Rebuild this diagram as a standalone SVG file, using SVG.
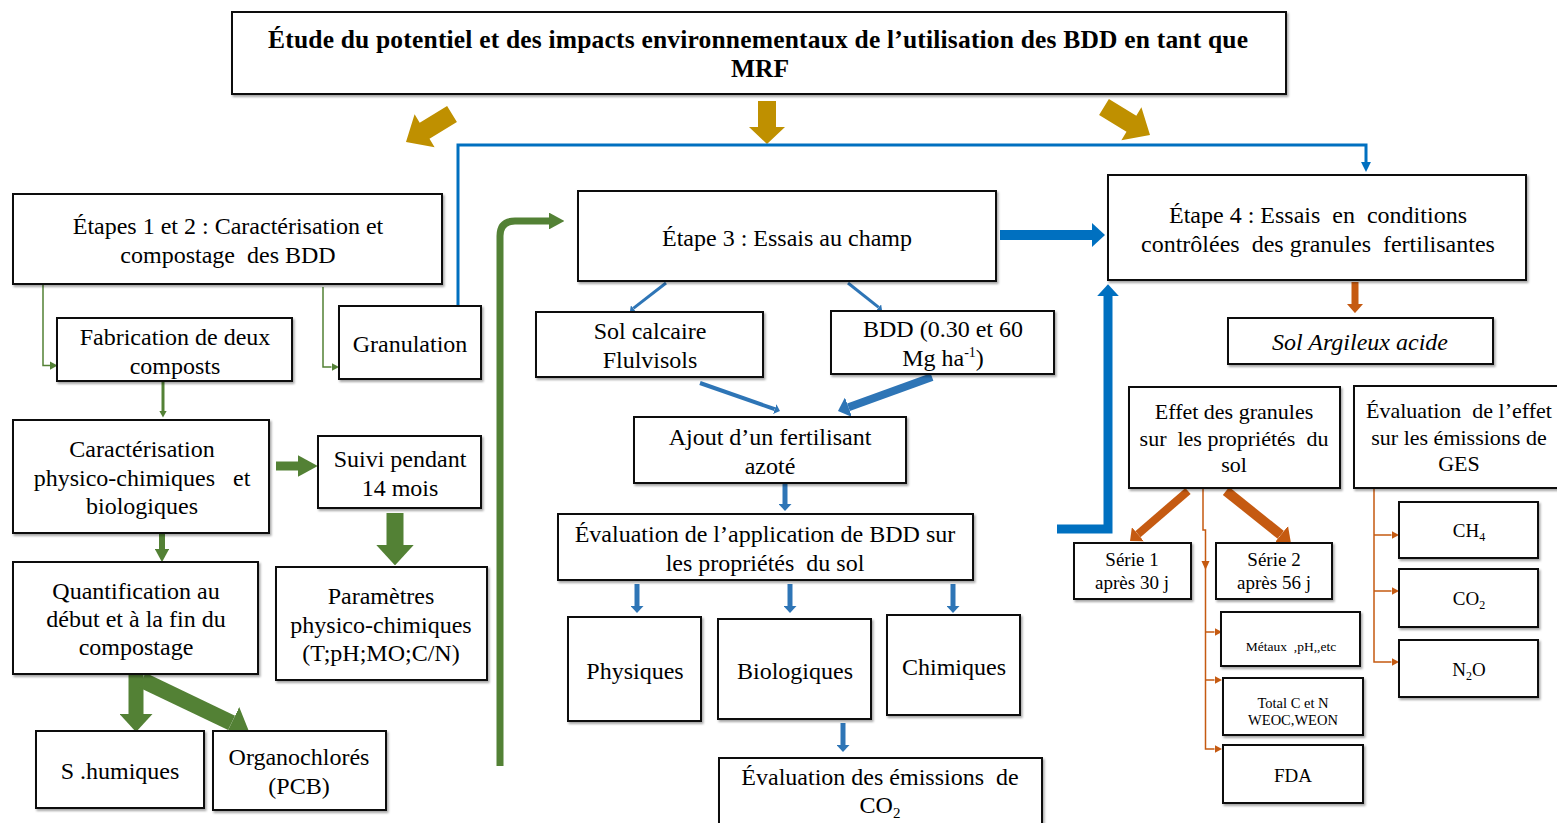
<svg xmlns="http://www.w3.org/2000/svg" width="1557" height="823" viewBox="0 0 1557 823" xml:space="preserve">
<style>
text{font-family:"Liberation Serif","Times New Roman",serif;fill:#000;text-anchor:middle;white-space:pre}
.t{font-size:24px}
.m{font-size:22px}
.s{font-size:19px}
.xs{font-size:14.5px}
.ttl{font-size:25.5px;font-weight:bold}
.box{fill:#fff;stroke:#111;stroke-width:2;filter:url(#sh)}
.g{fill:none;stroke:#538135}
.b{fill:none;stroke:#0070C0}
.sb{fill:none;stroke:#2E75B6}
.o{fill:none;stroke:#C55A11}
</style>
<defs>
<filter id="sh" x="-5%" y="-5%" width="115%" height="125%">
<feDropShadow dx="1.5" dy="2" stdDeviation="1.2" flood-color="#000" flood-opacity="0.35"/>
</filter>
<marker id="gThin" viewBox="0 0 10 10" refX="0" refY="5" markerUnits="strokeWidth" markerWidth="5" markerHeight="5.5" preserveAspectRatio="none" orient="auto"><path d="M0,0L10,5L0,10z" fill="#538135"/></marker>
<marker id="gHead" viewBox="0 0 10 10" refX="0" refY="5" markerUnits="strokeWidth" markerWidth="2.2" markerHeight="2.4" preserveAspectRatio="none" orient="auto"><path d="M0,0L10,5L0,10z" fill="#538135"/></marker>
<marker id="gWide" viewBox="0 0 10 10" refX="0" refY="5" markerUnits="strokeWidth" markerWidth="1.2" markerHeight="2.2" preserveAspectRatio="none" orient="auto"><path d="M0,0L10,5L0,10z" fill="#538135"/></marker>
<marker id="bThin" viewBox="0 0 10 10" refX="0" refY="5" markerUnits="strokeWidth" markerWidth="3.3" markerHeight="3.3" preserveAspectRatio="none" orient="auto"><path d="M0,0L10,5L0,10z" fill="#0070C0"/></marker>
<marker id="bHead" viewBox="0 0 10 10" refX="0" refY="5" markerUnits="strokeWidth" markerWidth="1.3" markerHeight="2.4" preserveAspectRatio="none" orient="auto"><path d="M0,0L10,5L0,10z" fill="#0070C0"/></marker>
<marker id="sHead" viewBox="0 0 10 10" refX="0" refY="5" markerUnits="strokeWidth" markerWidth="1.4" markerHeight="2.6" preserveAspectRatio="none" orient="auto"><path d="M0,0L10,5L0,10z" fill="#2E75B6"/></marker>
<marker id="oHead" viewBox="0 0 10 10" refX="0" refY="5" markerUnits="strokeWidth" markerWidth="1.3" markerHeight="2.3" preserveAspectRatio="none" orient="auto"><path d="M0,0L10,5L0,10z" fill="#C55A11"/></marker>
<marker id="oThin" viewBox="0 0 10 10" refX="0" refY="5" markerUnits="strokeWidth" markerWidth="5" markerHeight="5.5" preserveAspectRatio="none" orient="auto"><path d="M0,0L10,5L0,10z" fill="#C55A11"/></marker>
</defs>
<rect width="1557" height="823" fill="#fff"/>

<g id="connectors">
<polygon fill="#BF9000" points="447.1,106 419.7,122.7 414.6,114.2 406,142 434.6,147.2 429.5,138.7 456.9,122"/>
<polygon fill="#BF9000" points="758,101 776,101 776,127 785,127 767,144 749,127 758,127"/>
<polygon fill="#BF9000" points="1108.9,99 1136.3,115.7 1141.4,107.2 1150,135 1121.4,140.2 1126.5,131.7 1099.1,115"/>
<path class="g" stroke-width="1.5" d="M43,285V365.5H50" marker-end="url(#gThin)"/>
<path class="g" stroke-width="1.5" d="M323,287V367H331.5" marker-end="url(#gThin)"/>
<path class="g" stroke-width="3" d="M163,382V411" marker-end="url(#gHead)"/>
<path class="g" stroke-width="9" d="M276,466H298" marker-end="url(#gHead)"/>
<path class="g" stroke-width="17" d="M395,513V545" marker-end="url(#gWide)"/>
<path class="g" stroke-width="6" d="M162,533V549" marker-end="url(#gHead)"/>
<path class="g" stroke-width="15" d="M136,674V714" marker-end="url(#gWide)"/>
<path class="g" stroke-width="16" d="M142,680L231.6,722.9" marker-end="url(#gWide)"/>
<path class="g" stroke-width="7" d="M500,766V236Q500,221 515,221H549" marker-end="url(#gHead)"/>
<path class="b" stroke-width="3" d="M458,306V145H1366V162" marker-end="url(#bThin)"/>
<path class="b" stroke-width="10" d="M1000,235H1092" marker-end="url(#bHead)"/>
<path class="b" stroke-width="9" d="M1057,529H1108V296" marker-end="url(#bHead)"/>
<path class="sb" stroke-width="3" d="M666,283L633.3,308.4" marker-end="url(#sHead)"/>
<path class="sb" stroke-width="3" d="M848,283L878.7,307.4" marker-end="url(#sHead)"/>
<path class="sb" stroke-width="4" d="M700,383L774.7,409.2" marker-end="url(#sHead)"/>
<path class="sb" stroke-width="8" d="M932,377L848.5,407.2" marker-end="url(#sHead)"/>
<path class="sb" stroke-width="5" d="M785,484V504" marker-end="url(#sHead)"/>
<path class="sb" stroke-width="5" d="M637,584V606" marker-end="url(#sHead)"/>
<path class="sb" stroke-width="5" d="M790,584V606" marker-end="url(#sHead)"/>
<path class="sb" stroke-width="5" d="M953,584V606" marker-end="url(#sHead)"/>
<path class="sb" stroke-width="5" d="M843,723V745" marker-end="url(#sHead)"/>
<path class="o" stroke-width="7" d="M1355,282V304" marker-end="url(#oHead)"/>
<path class="o" stroke-width="8" d="M1188,491L1137.9,534.2" marker-end="url(#oHead)"/>
<path class="o" stroke-width="10" d="M1226,491L1280.8,534.9" marker-end="url(#oHead)"/>
<path class="o" stroke-width="1.5" d="M1203,489V530H1205.5V749H1214.5" marker-end="url(#oThin)"/>
<path class="o" stroke-width="1.5" d="M1205.5,632H1214.5" marker-end="url(#oThin)"/>
<path class="o" stroke-width="1.5" d="M1205.5,680H1214.5" marker-end="url(#oThin)"/>
<polygon fill="#C55A11" points="1201.5,561 1209.5,561 1205.5,570"/>
<path class="o" stroke-width="1.5" d="M1374,489V662H1391.5" marker-end="url(#oThin)"/>
<path class="o" stroke-width="1.5" d="M1374,535H1391.5" marker-end="url(#oThin)"/>
<path class="o" stroke-width="1.5" d="M1374,591H1391.5" marker-end="url(#oThin)"/>
</g>

<g id="title"><rect class="box" x="232" y="12" width="1054" height="82"/>
<text class="ttl" x="758" y="48" textLength="980" lengthAdjust="spacing">Étude du potentiel et des impacts environnementaux de l’utilisation des BDD en tant que</text>
<text class="ttl" x="760" y="77">MRF</text></g>

<g id="etapes12"><rect class="box" x="13" y="194" width="429" height="90"/>
<text class="t" x="228" y="234">Étapes 1 et 2 : Caractérisation et</text>
<text class="t" x="228" y="263">compostage  des BDD</text></g>

<g id="fabrication"><rect class="box" x="57" y="318" width="235" height="63"/>
<text class="t" x="175" y="345">Fabrication de deux</text>
<text class="t" x="175" y="374">composts</text></g>

<g id="granulation"><rect class="box" x="339" y="306" width="142" height="73"/>
<text class="t" x="410" y="352">Granulation</text></g>

<g id="caracterisation"><rect class="box" x="13" y="420" width="256" height="113"/>
<text class="t" x="142" y="457">Caractérisation</text>
<text class="t" x="142" y="486">physico-chimiques   et</text>
<text class="t" x="142" y="514">biologiques</text></g>

<g id="suivi"><rect class="box" x="318" y="436" width="163" height="72"/>
<text class="t" x="400" y="467">Suivi pendant</text>
<text class="t" x="400" y="496">14 mois</text></g>

<g id="quantification"><rect class="box" x="13" y="562" width="245" height="112"/>
<text class="t" x="136" y="599">Quantification au</text>
<text class="t" x="136" y="627">début et à la fin du</text>
<text class="t" x="136" y="655">compostage</text></g>

<g id="parametres"><rect class="box" x="276" y="567" width="211" height="113"/>
<text class="t" x="381" y="604">Paramètres</text>
<text class="t" x="381" y="633">physico-chimiques</text>
<text class="t" x="381" y="661">(T;pH;MO;C/N)</text></g>

<g id="shumiques"><rect class="box" x="36" y="731" width="168" height="77"/>
<text class="t" x="120" y="779">S .humiques</text></g>

<g id="organochlores"><rect class="box" x="213" y="731" width="173" height="79"/>
<text class="t" x="299" y="765">Organochlorés</text>
<text class="t" x="299" y="794">(PCB)</text></g>

<g id="etape3"><rect class="box" x="578" y="191" width="418" height="90"/>
<text class="t" x="787" y="246">Étape 3 : Essais au champ</text></g>

<g id="solcalcaire"><rect class="box" x="536" y="312" width="227" height="65"/>
<text class="t" x="650" y="339">Sol calcaire</text>
<text class="t" x="650" y="368">Flulvisols</text></g>

<g id="bdd"><rect class="box" x="831" y="311" width="223" height="63"/>
<text class="t" x="943" y="337">BDD (0.30 et 60</text>
<text class="t" x="943" y="366">Mg ha<tspan font-size="14" dy="-9">-1</tspan><tspan dy="9">)</tspan></text></g>

<g id="ajout"><rect class="box" x="634" y="417" width="272" height="66"/>
<text class="t" x="770" y="445">Ajout d’un fertilisant</text>
<text class="t" x="770" y="474">azoté</text></g>

<g id="evaluation"><rect class="box" x="558" y="514" width="415" height="66"/>
<text class="t" x="765" y="542">Évaluation de l’application de BDD sur</text>
<text class="t" x="765" y="571">les propriétés  du sol</text></g>

<g id="physiques"><rect class="box" x="568" y="617" width="133" height="104"/>
<text class="t" x="635" y="679">Physiques</text></g>

<g id="biologiques"><rect class="box" x="718" y="619" width="153" height="100"/>
<text class="t" x="795" y="679">Biologiques</text></g>

<g id="chimiques"><rect class="box" x="887" y="615" width="133" height="100"/>
<text class="t" x="954" y="675">Chimiques</text></g>

<g id="emissionsCO2"><rect class="box" x="719" y="758" width="323" height="75"/>
<text class="t" x="880" y="785">Évaluation des émissions  de</text>
<text class="t" x="880" y="813">CO<tspan font-size="15" dy="5">2</tspan></text></g>

<g id="etape4"><rect class="box" x="1108" y="175" width="418" height="105"/>
<text class="t" x="1318" y="223">Étape 4 : Essais  en  conditions</text>
<text class="t" x="1318" y="252">contrôlées  des granules  fertilisantes</text></g>

<g id="solargileux"><rect class="box" x="1228" y="318" width="265" height="46"/>
<text class="t" x="1360" y="350" font-style="italic">Sol Argileux acide</text></g>

<g id="effet"><rect class="box" x="1129" y="387" width="211" height="101"/>
<text class="m" x="1234" y="419">Effet des granules</text>
<text class="m" x="1234" y="446">sur  les propriétés  du</text>
<text class="m" x="1234" y="472">sol</text></g>

<g id="evalGES"><rect class="box" x="1354" y="386" width="210" height="102"/>
<text class="m" x="1459" y="418">Évaluation  de l’effet</text>
<text class="m" x="1459" y="445">sur les émissions de</text>
<text class="m" x="1459" y="471">GES</text></g>

<g id="serie1"><rect class="box" x="1074" y="543" width="117" height="56"/>
<text class="s" x="1132" y="566">Série 1</text>
<text class="s" x="1132" y="589">après 30 j</text></g>

<g id="serie2"><rect class="box" x="1216" y="543" width="116" height="56"/>
<text class="s" x="1274" y="566">Série 2</text>
<text class="s" x="1274" y="589">après 56 j</text></g>

<g id="metaux"><rect class="box" x="1221" y="612" width="139" height="54"/>
<text x="1291" y="651" font-size="13.5">Métaux  ,pH,,etc</text></g>

<g id="total"><rect class="box" x="1223" y="678" width="140" height="57"/>
<text class="xs" x="1293" y="708">Total C et N</text>
<text class="xs" x="1293" y="725">WEOC,WEON</text></g>

<g id="fda"><rect class="box" x="1223" y="745" width="140" height="58"/>
<text class="s" x="1293" y="782">FDA</text></g>

<g id="ch4"><rect class="box" x="1399" y="502" width="139" height="56"/>
<text class="s" x="1469" y="537">CH<tspan font-size="12" dy="4">4</tspan></text></g>

<g id="co2"><rect class="box" x="1399" y="569" width="139" height="58"/>
<text class="s" x="1469" y="605">CO<tspan font-size="12" dy="4">2</tspan></text></g>

<g id="n2o"><rect class="box" x="1399" y="640" width="139" height="57"/>
<text class="s" x="1469" y="676">N<tspan font-size="12" dy="4">2</tspan><tspan dy="-4">O</tspan></text></g>
</svg>
